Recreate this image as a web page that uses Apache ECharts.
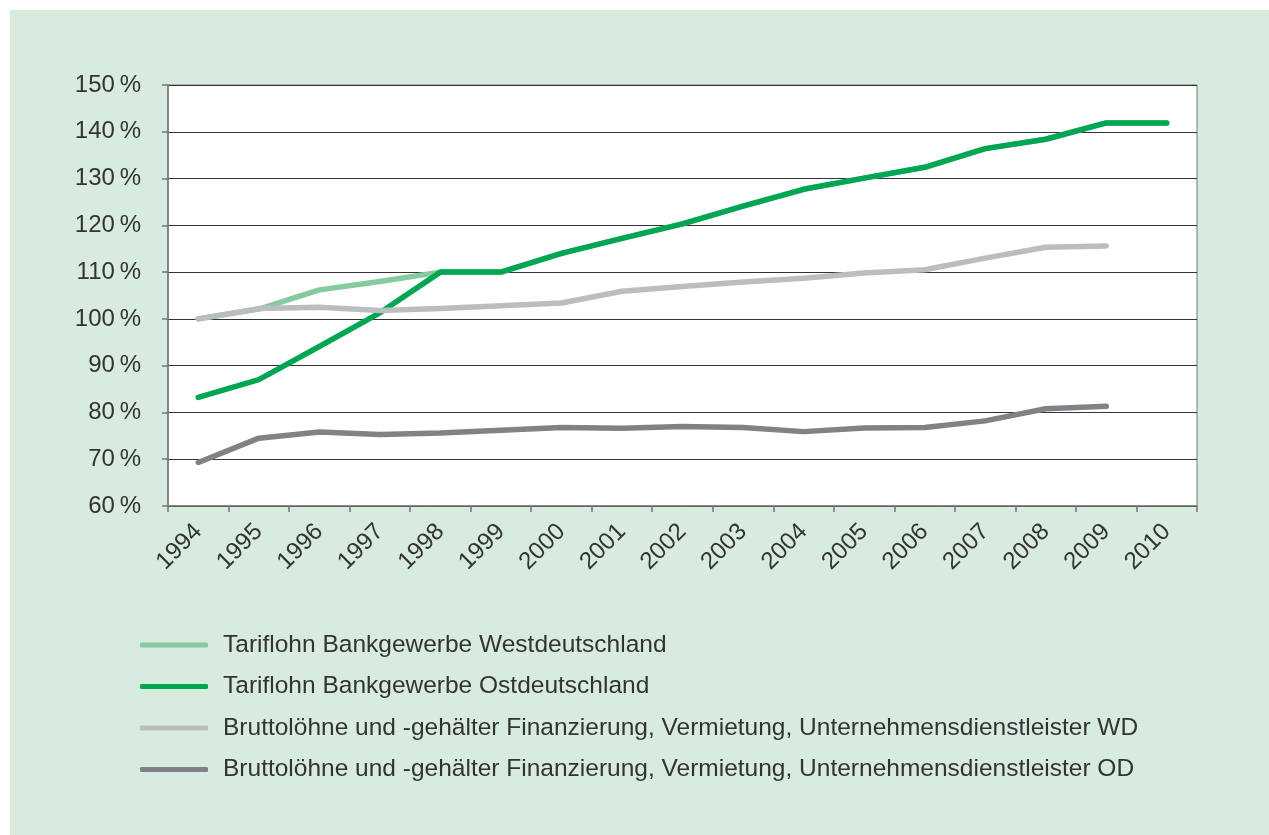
<!DOCTYPE html>
<html>
<head>
<meta charset="utf-8">
<script src="https://cdn.jsdelivr.net/npm/echarts@6/dist/echarts.min.js"></script>
<style>
  html, body { margin: 0; padding: 0; background: #fff; }
  #chart { position: absolute; left: 10px; top: 10px; width: 1259px; height: 825px; background: #d7ebdf; }
</style>
</head>
<body>
<div id="chart"></div>
<script>
const years = ['1994', '1995', '1996', '1997', '1998', '1999', '2000', '2001', '2002',
               '2003', '2004', '2005', '2006', '2007', '2008', '2009', '2010'];

const tarifWest = [100, 102.1, 106.2, 108.0, 110, 110, 114.0, 117.2, 120.3, 124.1, 127.7, 130.1, 132.4, 136.4, 138.4, 141.9, 141.9];
const tarifOst = [83.2, 87.0, 94.1, 101.3, 110, 110, 114.0, 117.2, 120.3, 124.1, 127.7, 130.1, 132.4, 136.4, 138.4, 141.9, 141.9];
const bruttoWD = [100, 102.2, 102.5, 101.8, 102.2, 102.8, 103.4, 105.9, 106.9, 107.9, 108.7, 109.8, 110.5, 113.0, 115.3, 115.6, null];
const bruttoOD = [69.3, 74.5, 75.8, 75.3, 75.6, 76.2, 76.8, 76.6, 77.0, 76.8, 75.9, 76.7, 76.8, 78.2, 80.8, 81.3, null];

const seriesNames = [
    'Tariflohn Bankgewerbe Westdeutschland',
    'Tariflohn Bankgewerbe Ostdeutschland',
    'Bruttolöhne und -gehälter Finanzierung, Vermietung, Unternehmensdienstleister WD',
    'Bruttolöhne und -gehälter Finanzierung, Vermietung, Unternehmensdienstleister OD'
];
const seriesColors = ['#86cb9f', '#00a651', '#bcbdc0', '#818285'];

const chart = echarts.init(document.getElementById('chart'));

const textColor = '#333';
const fontFamily = '"Liberation Sans", Arial, sans-serif';

function lineSeries(i, data) {
    return {
        name: seriesNames[i],
        type: 'line',
        data: data,
        symbol: 'none',
        color: seriesColors[i],
        lineStyle: { width: 5.5, color: seriesColors[i], cap: 'round', join: 'round' },
        connectNulls: false
    };
}

const option = {
    animation: false,
    textStyle: { fontFamily: fontFamily },
    grid: {
        left: 158, right: 72, top: 75, bottom: 329,
        show: true, backgroundColor: '#fff', borderColor: '#777', borderWidth: 1
    },
    legend: {
        orient: 'vertical',
        left: 125,
        top: 615,
        icon: 'roundRect',
        itemWidth: 68,
        itemHeight: 5,
        itemGap: 11.5,
        textStyle: { fontSize: 24.5, color: textColor, lineHeight: 30, padding: [0, 0, 0, 10] },
        data: seriesNames
    },
    xAxis: {
        type: 'category',
        data: years,
        boundaryGap: true,
        axisLine: { lineStyle: { color: '#777', width: 1.5 } },
        axisTick: { show: true, length: 6, lineStyle: { color: '#777', width: 1.5 } },
        axisLabel: { rotate: 45, fontSize: 24, color: textColor, margin: 22, interval: 0 },
        splitLine: { show: false }
    },
    yAxis: {
        type: 'value',
        min: 60,
        max: 150,
        interval: 10,
        axisLine: { show: true, lineStyle: { color: '#777', width: 1.5 } },
        axisTick: { show: true, length: 6, lineStyle: { color: '#777', width: 1.5 } },
        axisLabel: { fontSize: 24, color: textColor, margin: 27, formatter: '{value}\u2009%' },
        splitLine: { show: true, lineStyle: { color: '#333', width: 1.2 } }
    },
    series: [
        lineSeries(0, tarifWest),
        lineSeries(1, tarifOst),
        lineSeries(2, bruttoWD),
        lineSeries(3, bruttoOD)
    ]
};

chart.setOption(option);
</script>
</body>
</html>
